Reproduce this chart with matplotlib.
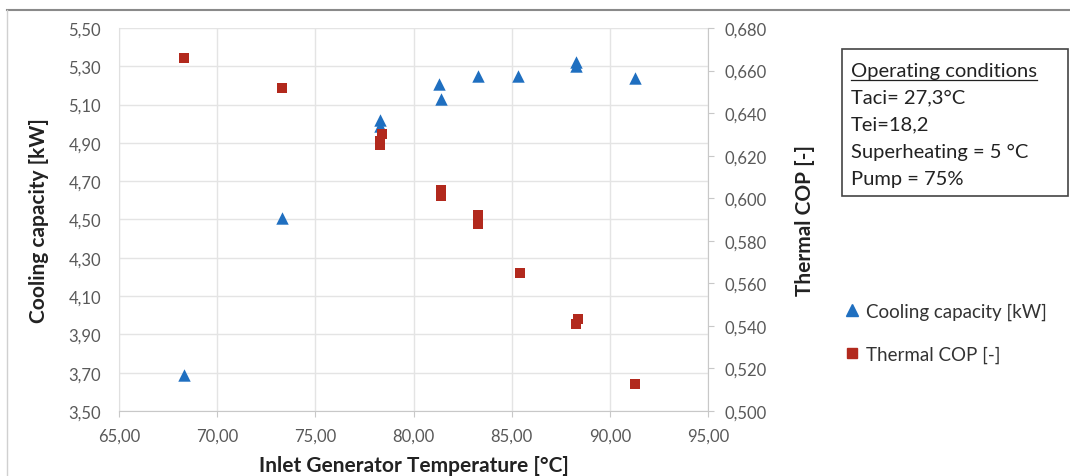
import numpy as np
import matplotlib.pyplot as plt
from matplotlib.ticker import FuncFormatter, MultipleLocator
from matplotlib.lines import Line2D

plt.rcParams['font.family'] = ['Lato', 'DejaVu Sans']

# Cooling capacity [kW] vs inlet generator temperature
t_cool = [68.3, 73.3, 78.3, 78.3, 81.3, 81.4, 83.3, 85.3, 88.3, 88.3, 91.3]
cooling = [3.69, 4.51, 5.02, 4.99, 5.21, 5.13, 5.25, 5.25, 5.32, 5.30, 5.24]

# Thermal COP [-]
t_cop = [68.3, 73.3, 78.3, 78.4, 78.3, 81.4, 81.4, 83.3, 83.3, 85.4, 88.4, 88.3, 91.3]
cop = [0.666, 0.652, 0.625, 0.630, 0.627, 0.604, 0.601, 0.592, 0.588, 0.565, 0.543, 0.541, 0.5125]

conditions = ["Taci= 27,3°C", "Tei=18,2", "Superheating = 5 °C", "Pump = 75%"]

blue = '#1f6fc0'
red = '#b2291d'
tick_col = '#595959'
grid_col = '#e4e4e4'

fig = plt.figure(figsize=(10.7, 4.77), dpi=100)
ax = fig.add_axes([0.1112, 0.1363, 0.5505, 0.8029])
ax2 = ax.twinx()

ax.scatter(t_cool, cooling, marker='^', s=80, color=blue, zorder=3, linewidths=0)
ax2.scatter(t_cop, cop, marker='s', s=62, color=red, zorder=3, linewidths=0)

ax.set_xlim(65, 95)
ax.set_ylim(3.5, 5.5)
ax2.set_ylim(0.5, 0.68)
ax.xaxis.set_major_locator(MultipleLocator(5))
ax.set_yticks(np.linspace(3.5, 5.5, 11))
ax2.yaxis.set_major_locator(MultipleLocator(0.02))

ax.xaxis.set_major_formatter(FuncFormatter(lambda v, p: f"{v:.2f}".replace('.', ',')))
ax.yaxis.set_major_formatter(FuncFormatter(lambda v, p: f"{v:.2f}".replace('.', ',')))
ax2.yaxis.set_major_formatter(FuncFormatter(lambda v, p: f"{v:.3f}".replace('.', ',')))

ax.grid(True, color=grid_col, linewidth=1.0)
ax.set_axisbelow(True)

for a in (ax, ax2):
    for s in a.spines.values():
        s.set_visible(False)
ax.spines['bottom'].set_visible(True)
ax.spines['bottom'].set_color('#c8c8c8')
ax.spines['left'].set_visible(True)
ax.spines['left'].set_color('#e0e0e0')
ax2.spines['right'].set_visible(True)
ax2.spines['right'].set_color('#c8c8c8')

ax.tick_params(axis='x', colors='#c8c8c8', labelcolor=tick_col, labelsize=12, length=4, pad=8)
ax.tick_params(axis='y', length=0, labelcolor=tick_col, labelsize=12, pad=13)
ax2.tick_params(axis='y', colors='#c8c8c8', labelcolor=tick_col, labelsize=12, length=4, pad=8)

ax.set_xlabel("Inlet Generator Temperature [°C]", fontsize=15, fontweight='bold',
              color='#222222', labelpad=8)
ax.set_ylabel("Cooling capacity [kW]", fontsize=15, fontweight='bold',
              color='#222222', labelpad=14)
ax2.set_ylabel("Thermal COP [-]", fontsize=15, fontweight='bold',
               color='#222222', labelpad=20)

# Operating conditions box
fig.patches.append(plt.Rectangle((842 / 1070, 1 - 197 / 477), 226 / 1070, 147 / 477,
                                 transform=fig.transFigure, fill=False,
                                 edgecolor='#444444', linewidth=1.2))
title = fig.text(851 / 1070, 1 - 71 / 477, "Operating conditions", fontsize=14.5,
                 color='#222222', va='center', ha='left')
for i, line in enumerate(conditions):
    fig.text(851 / 1070, 1 - (98 + 27 * i) / 477, line, fontsize=14.5,
             color='#222222', va='center', ha='left')

# underline the box title
fig.canvas.draw()
bb = title.get_window_extent()
fig.add_artist(Line2D([bb.x0 / 1070, bb.x1 / 1070], [(bb.y0 - 1) / 477, (bb.y0 - 1) / 477],
                      transform=fig.transFigure, color='#222222', linewidth=0.9))

# legend
handles = [Line2D([], [], marker='^', color=blue, linestyle='none', markersize=8),
           Line2D([], [], marker='s', color=red, linestyle='none', markersize=7)]
fig.legend(handles, ["Cooling capacity [kW]", "Thermal COP [-]"],
           loc='upper left', bbox_to_anchor=(831 / 1070, 1 - 292 / 477),
           frameon=False, fontsize=13.5, handletextpad=0.25, handlelength=1.0,
           labelspacing=1.4, labelcolor='#333333', borderaxespad=0.2)

# chart frame edges visible in the crop
fig.add_artist(Line2D([7 / 1070, 1.0], [1 - 11 / 477, 1 - 11 / 477],
                      transform=fig.transFigure, color='#8a8a8a', linewidth=1.5))
fig.add_artist(Line2D([7 / 1070, 7 / 1070], [0, 1 - 11 / 477],
                      transform=fig.transFigure, color='#d0d0d0', linewidth=1.0))

fig.savefig('out.png', dpi=100)
